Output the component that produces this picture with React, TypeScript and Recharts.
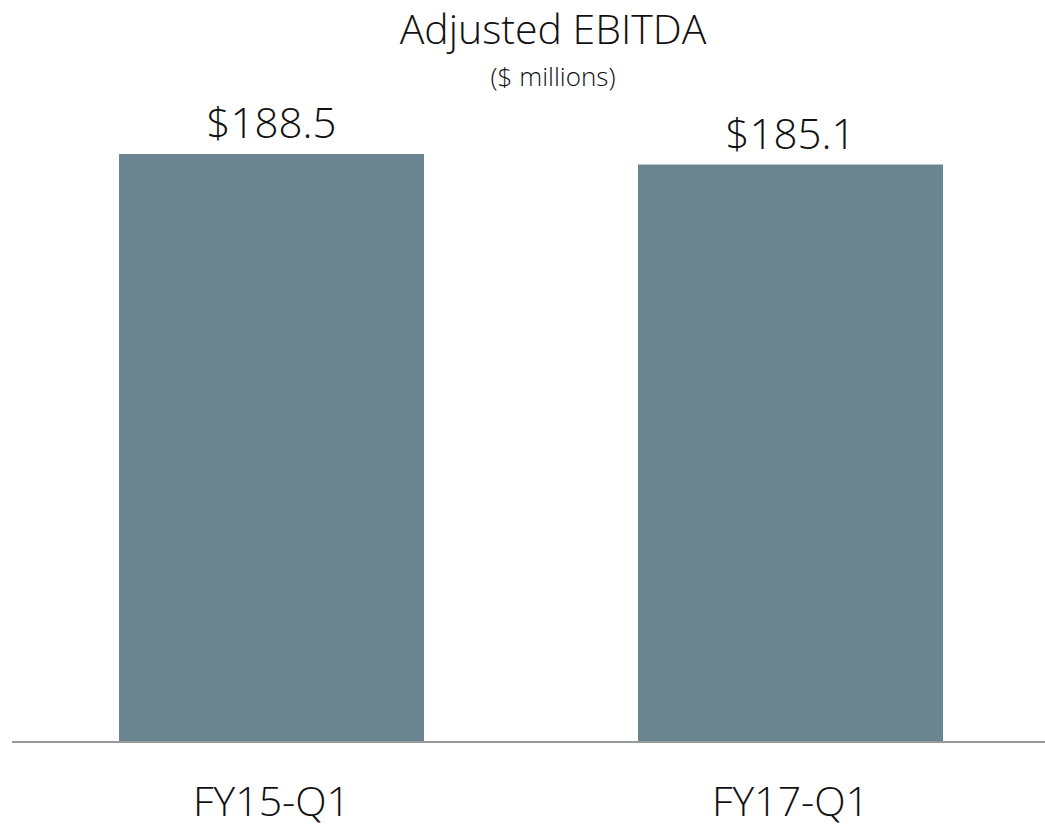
import { BarChart, Bar, XAxis, YAxis, LabelList } from "recharts";

const periods = ["FY15-Q1", "FY17-Q1"];
const ebitda = [188.5, 185.1];

const chartData = periods.map((period, i) => ({
  period,
  value: ebitda[i],
}));

const FONT = "'Open Sans', 'DejaVu Sans', sans-serif";
const BAR_COLOR = "#6a8490";
const W = 1045;
const H = 824;

export default function App() {
  return (
    <div style={{ position: "absolute", left: 0, top: 0, width: W, height: H, fontFamily: FONT }}>
      <svg
        width={W}
        height={110}
        style={{ position: "absolute", left: 0, top: 0, pointerEvents: "none" }}
      >
        <text x={553} y={44} textAnchor="middle" fontSize={41} fontWeight={300} fill="#111" fontFamily={FONT}>
          Adjusted EBITDA
        </text>
        <text x={553} y={86} textAnchor="middle" fontSize={26} fontWeight={300} fill="#111" fontFamily={FONT}>
          ($ millions)
        </text>
      </svg>
      <BarChart
        width={W}
        height={H}
        data={chartData}
        margin={{ top: 154, right: -5, left: 12, bottom: 0 }}
        barCategoryGap={107}
      >
        <YAxis hide domain={[0, 188.5]} />
        <XAxis
          dataKey="period"
          height={82}
          tickLine={false}
          tickSize={0}
          tickMargin={45}
          axisLine={{ stroke: "#999", strokeWidth: 2 }}
          tick={{ fontSize: 41, fontWeight: 300, fill: "#111", fontFamily: FONT }}
        />
        <Bar dataKey="value" fill={BAR_COLOR} isAnimationActive={false}>
          <LabelList
            dataKey="value"
            position="top"
            offset={16}
            formatter={(v: number) => `$${v.toFixed(1)}`}
            style={{ fontSize: 42, fontWeight: 300, fill: "#111", fontFamily: FONT }}
          />
        </Bar>
      </BarChart>
    </div>
  );
}
